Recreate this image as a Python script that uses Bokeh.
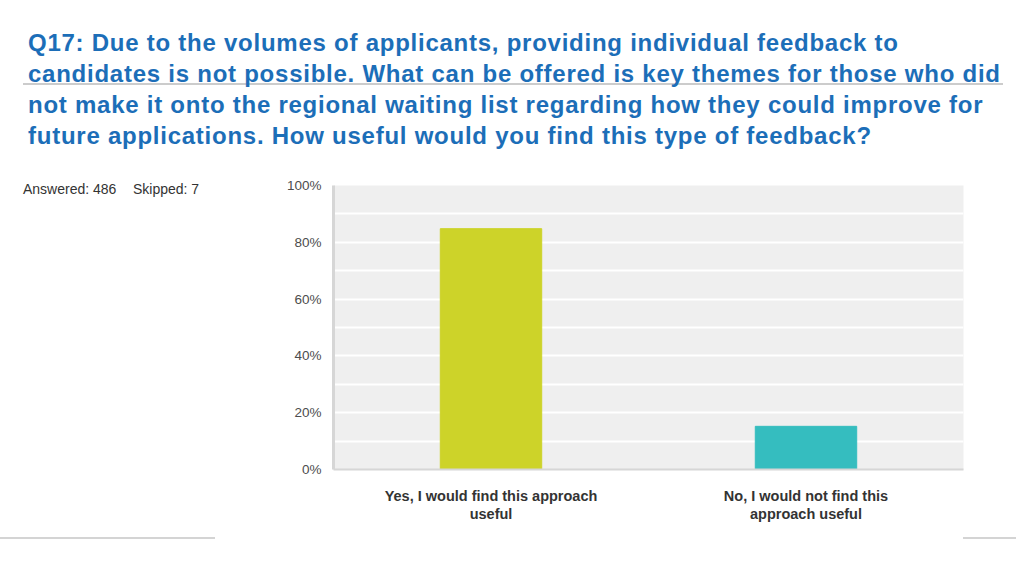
from bokeh.plotting import figure
from bokeh.models import (ColumnDataSource, FactorRange, Range1d, FixedTicker,
                          NumeralTickFormatter, Div, Spacer)
from bokeh.layouts import column, row
from bokeh.embed import file_html
from bokeh.resources import INLINE

# ---- data ----
categories = ["Yes, I would find this approach\nuseful",
              "No, I would not find this\napproach useful"]
values = [0.848, 0.152]
bar_colors = ["#cdd329", "#35bdbf"]
y_ticks = [0, 0.2, 0.4, 0.6, 0.8, 1.0]
grid_ticks = [0.1, 0.2, 0.3, 0.4, 0.5, 0.6, 0.7, 0.8, 0.9]
title_lines = [
    "Q17: Due to the volumes of applicants, providing individual feedback to",
    "candidates is not possible. What can be offered is key themes for those who did",
    "not make it onto the regional waiting list regarding how they could improve for",
    "future applications. How useful would you find this type of feedback?",
]
answered_text = "Answered: 486"
skipped_text = "Skipped: 7"

TOTAL_W = 1016
TITLE_H = 165
LEFT_W = 260
FIG_W = TOTAL_W - LEFT_W
FIG_H = 372

FONT = "font-family:\"Liberation Sans\",Arial,sans-serif;"

# ---- title ----
title_html = (
    "<div style='position:relative;width:%dpx;height:%dpx;'>"
    "<div style='position:absolute;left:23px;top:83px;width:980px;height:1.5px;"
    "background:#cccccc;'></div>"
    "<div style='position:absolute;left:28px;top:27px;white-space:nowrap;" + FONT +
    "font-weight:bold;font-size:24px;letter-spacing:0.75px;"
    "line-height:31px;color:#1c6eb8;'>%s</div></div>"
) % (TOTAL_W, TITLE_H, "<br>".join(title_lines))
title_div = Div(text=title_html, width=TOTAL_W, height=TITLE_H, margin=0)

ans_html = (
    "<div style='position:relative;width:%dpx;height:40px;" + FONT +
    "font-size:14px;color:#333333;white-space:nowrap;'>"
    "<div style='position:absolute;left:23px;top:14px;'>%s</div>"
    "<div style='position:absolute;left:133px;top:14px;'>%s</div></div>"
) % (LEFT_W, answered_text, skipped_text)
ans_div = Div(text=ans_html, width=LEFT_W, height=FIG_H, margin=0)

# ---- chart ----
p = figure(width=FIG_W, height=FIG_H, x_range=FactorRange(*categories, range_padding=0),
           y_range=Range1d(0, 1), output_backend="svg", toolbar_location=None,
           min_border_left=73, min_border_right=53, min_border_top=20,
           min_border_bottom=FIG_H - 20 - 284)
p.background_fill_color = "#efefef"
p.border_fill_color = "white"
p.outline_line_color = None

src = ColumnDataSource(dict(x=categories, top=values, color=bar_colors))
p.vbar(x="x", top="top", width=0.322, color="color", source=src)

p.xaxis.major_label_text_font = "Liberation Sans"
p.xaxis.major_label_text_font_style = "bold"
p.xaxis.major_label_text_font_size = "14.5px"
p.xaxis.major_label_text_color = "#333333"
p.xaxis.major_label_text_line_height = 1.15
p.xaxis.major_label_standoff = 12
p.xaxis.major_tick_line_color = None
p.xaxis.minor_tick_line_color = None
p.xaxis.axis_line_color = "#d6d6d6"
p.xaxis.axis_line_width = 2

p.yaxis.ticker = FixedTicker(ticks=y_ticks)
p.yaxis.formatter = NumeralTickFormatter(format="0%")
p.yaxis.major_tick_line_color = None
p.yaxis.minor_tick_line_color = None
p.yaxis.axis_line_color = "#d6d6d6"
p.yaxis.axis_line_width = 3
p.yaxis.major_label_text_font = "Liberation Sans"
p.yaxis.major_label_text_font_size = "13.5px"
p.yaxis.major_label_text_color = "#4d4d4d"
p.yaxis.major_label_standoff = 6

p.xgrid.grid_line_color = None
p.ygrid.ticker = FixedTicker(ticks=grid_ticks)
p.ygrid.grid_line_color = "white"
p.ygrid.grid_line_width = 2

# decorative slide rule at the bottom
line_l = Div(text="", width=215, height=2, margin=0,
             styles={"background-color": "#d4d4d4"})
line_gap = Spacer(width=748, height=2, margin=0)
line_r = Div(text="", width=TOTAL_W - 963, height=2, margin=0,
             styles={"background-color": "#d4d4d4"})

layout = column(title_div, row(ans_div, p), row(line_l, line_gap, line_r))
open("out.html", "w").write(file_html(layout, INLINE))
